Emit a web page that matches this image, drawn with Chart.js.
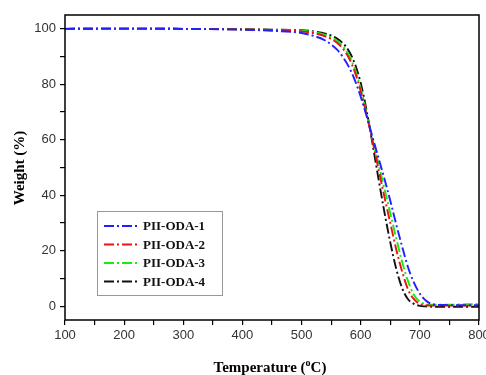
<!DOCTYPE html>
<html><head><meta charset="utf-8">
<script src="https://cdn.jsdelivr.net/npm/chart.js@4/dist/chart.umd.min.js"></script>
<style>html,body{margin:0;padding:0;background:#fff}#wrap{width:486px;height:375px;position:relative}</style>
</head><body><div id="wrap"><canvas id="c" width="486" height="375"></canvas></div>
<script>
const temps = [100,200,300,400,450,500,520,540,560,570,580,590,600,610,620,630,640,650,660,670,680,690,700,710,720,740,800];
const oda1 = [100,100.1,100,99.7,99.3,98.5,97.5,95.8,92.5,89.8,86.3,81.5,75.5,68.5,61,53.5,46,38,29.5,21.5,14,8.5,4.5,2,0.8,0.4,0.3];
const oda2 = [100,100.1,100,99.8,99.6,99.1,98.5,97.3,95,92.8,89.5,84.5,77.5,69,59.5,49.5,39.5,30,20.5,12.5,6,2.5,0.8,0.3,0.2,0.2,0.2];
const oda3 = [100,100.1,100,99.8,99.6,99.3,98.8,97.8,95.7,93.7,90.5,85.5,78.5,69.5,60,51.5,42.5,33.5,24.5,16,9,4,1.6,0.7,0.5,0.5,0.8];
const oda4 = [100,100.1,100,99.9,99.7,99.5,99.1,98.3,96.5,94.8,92,87.5,80.5,70.5,58.5,46,34,23,13.5,6.5,2.5,0.8,0.1,-0.1,-0.2,-0.2,-0.2];
const seriesNames = ['PII-ODA-1','PII-ODA-2','PII-ODA-3','PII-ODA-4'];
const seriesColors = ['#1f1fff','#ee1111','#11ee11','#111111'];
const xTicks = [100,150,200,250,300,350,400,450,500,550,600,650,700,750,800];
const xLabels = [100,200,300,400,500,600,700,800];
const yTicks = [0,10,20,30,40,50,60,70,80,90,100];
const yLabels = [0,20,40,60,80,100];
const dash = [10,3,2,3];

const values = [oda1,oda2,oda3,oda4];
const datasets = values.map((v,i)=>({
  label: seriesNames[i],
  data: temps.map((t,j)=>({x:t,y:v[j]})),
  borderColor: seriesColors[i],
  borderWidth: 1.9,
  borderDash: dash,
  pointRadius: 0,
  cubicInterpolationMode: 'monotone',
  fill: false
}));

const boxPlugin = {
  id:'box',
  afterDraw(chart){
    const {ctx, chartArea:a} = chart;
    ctx.save();
    ctx.strokeStyle='#000'; ctx.lineWidth=1.5;
    ctx.strokeRect(a.left, a.top, a.right-a.left, a.bottom-a.top);
    ctx.fillStyle='#000';
    ctx.font='bold 15px "Liberation Serif", "Times New Roman", serif';
    ctx.textBaseline='alphabetic';
    const t1='Temperature (', t2='o', t3='C)';
    const w1=ctx.measureText(t1).width, w3=ctx.measureText(t3).width;
    ctx.font='bold 10px "Liberation Serif", serif';
    const w2=ctx.measureText(t2).width;
    const total=w1+w2+w3;
    let x = 270 - total/2, y = 372;
    ctx.font='bold 15px "Liberation Serif", "Times New Roman", serif';
    ctx.textAlign='left';
    ctx.fillText(t1,x,y); x+=w1;
    ctx.font='bold 10px "Liberation Serif", serif';
    ctx.fillText(t2,x,y-6); x+=w2;
    ctx.font='bold 15px "Liberation Serif", "Times New Roman", serif';
    ctx.fillText(t3,x,y);
    ctx.save();
    ctx.translate(24, 168);
    ctx.rotate(-Math.PI/2);
    ctx.textAlign='center';
    ctx.fillText('Weight (%)',0,0);
    ctx.restore();
    const lx=97, ly=211, lw=125, lh=84;
    ctx.fillStyle='#fff';
    ctx.fillRect(lx,ly,lw,lh);
    ctx.strokeStyle='#999'; ctx.lineWidth=1;
    ctx.strokeRect(lx+0.5,ly+0.5,lw,lh);
    ctx.font='bold 13px "Liberation Serif", "Times New Roman", serif';
    ctx.textBaseline='middle';
    seriesNames.forEach((n,i)=>{
      const yy = ly + 15 + i*18.5;
      ctx.strokeStyle=seriesColors[i]; ctx.lineWidth=1.8;
      ctx.setLineDash(dash);
      ctx.beginPath(); ctx.moveTo(104,yy); ctx.lineTo(139,yy); ctx.stroke();
      ctx.setLineDash([]);
      ctx.fillStyle='#111';
      ctx.fillText(n,143,yy+1);
    });
    ctx.restore();
  }
};

new Chart(document.getElementById('c'), {
  type:'line',
  data:{datasets},
  options:{
    responsive:false, animation:false,
    layout:{padding:{left:0,right:7,top:15,bottom:0}},
    plugins:{legend:{display:false}, tooltip:{enabled:false}},
    scales:{
      x:{
        type:'linear', min:100, max:800,
        afterBuildTicks(s){ s.ticks = xTicks.map(v=>({value:v})); },
        afterFit(s){ s.height = 55; s.paddingLeft = 0; s.paddingRight = 0; },
        grid:{drawOnChartArea:false, tickLength:5, color:'#000', lineWidth:1.2},
        border:{display:false},
        ticks:{autoSkip:false, maxRotation:0, color:'#333', font:{family:'"Liberation Sans", Arial, sans-serif', size:13}, padding:3,
          callback:v=> xLabels.includes(v) ? String(v) : ''}
      },
      y:{
        type:'linear', min:-5, max:105,
        afterBuildTicks(s){ s.ticks = yTicks.map(v=>({value:v})); },
        afterFit(s){ s.width = 65; s.paddingTop = 0; s.paddingBottom = 0; },
        grid:{drawOnChartArea:false, tickLength:5, color:'#000', lineWidth:1.2},
        border:{display:false},
        ticks:{autoSkip:false, color:'#333', font:{family:'"Liberation Sans", Arial, sans-serif', size:13}, padding:4,
          callback:v=> yLabels.includes(v) ? String(v) : ''}
      }
    }
  },
  plugins:[boxPlugin]
});
</script></body></html>
